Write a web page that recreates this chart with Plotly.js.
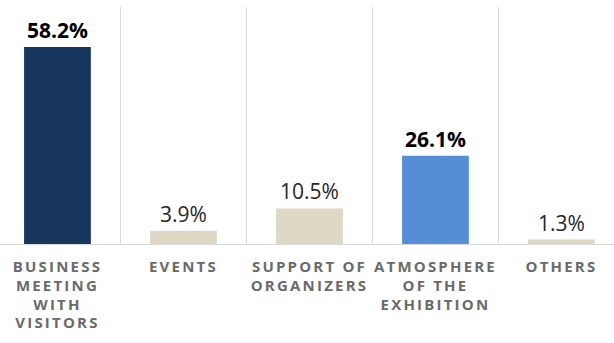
<!DOCTYPE html>
<html>
<head>
<meta charset="utf-8">
<script src="https://cdn.plot.ly/plotly-3.0.1.min.js"></script>
<style>
  html, body { margin: 0; padding: 0; background: #fff; }
  #chart { width: 614px; height: 343px; }
  .xtick text { letter-spacing: 2.2px; }
</style>
</head>
<body>
<div id="chart"></div>
<script>
// Data
const categories = ["BUSINESS<br>MEETING<br>WITH<br>VISITORS", "EVENTS", "SUPPORT OF<br>ORGANIZERS", "ATMOSPHERE<br>OF THE<br>EXHIBITION", "OTHERS"];
const values = [58.2, 3.9, 10.5, 26.1, 1.3];

// Styling
const barColors = ["#17375e", "#ddd9c4", "#ddd9c4", "#558ed5", "#ddd9c4"];
const emphasized = [true, false, false, true, false];

const labels = values.map((v, i) => emphasized[i] ? "<b>" + v.toFixed(1) + "%</b>" : v.toFixed(1) + "%");
const tickLabels = categories.map(c => c.split("<br>").map(s => '<span style="font-size:15px">' + s + "</span>").join("<br>"));

const trace = {
  type: "bar",
  x: categories,
  y: values,
  marker: { color: barColors, line: { width: 0 } },
  text: labels,
  texttemplate: "%{text}",
  textposition: "outside",
  textfont: { family: "Open Sans, sans-serif", size: 21, color: emphasized.map(e => e ? "#000000" : "#262626") },
  cliponaxis: false,
  hoverinfo: "skip"
};

const layout = {
  width: 614,
  height: 343,
  margin: { l: 0, r: 0, t: 7, b: 99 },
  paper_bgcolor: "#ffffff",
  plot_bgcolor: "#ffffff",
  showlegend: false,
  bargap: 0.47,
  xaxis: {
    type: "category",
    range: [-0.456, 4.417],
    tickson: "boundaries",
    tickmode: "array",
    tickvals: categories,
    ticktext: tickLabels,
    showgrid: true,
    gridcolor: "#d9d9d9",
    gridwidth: 1,
    showline: true,
    linecolor: "#d9d9d9",
    linewidth: 1,
    ticks: "",
    ticklabelstandoff: 10,
    tickfont: { family: "Open Sans, sans-serif", size: 14.4, color: "#6a6a6a", weight: "bold" },
    fixedrange: true
  },
  yaxis: {
    range: [0, 70],
    visible: false,
    showgrid: false,
    zeroline: false,
    fixedrange: true
  }
};

Plotly.newPlot("chart", [trace], layout, { displayModeBar: false, staticPlot: true });
</script>
</body>
</html>
